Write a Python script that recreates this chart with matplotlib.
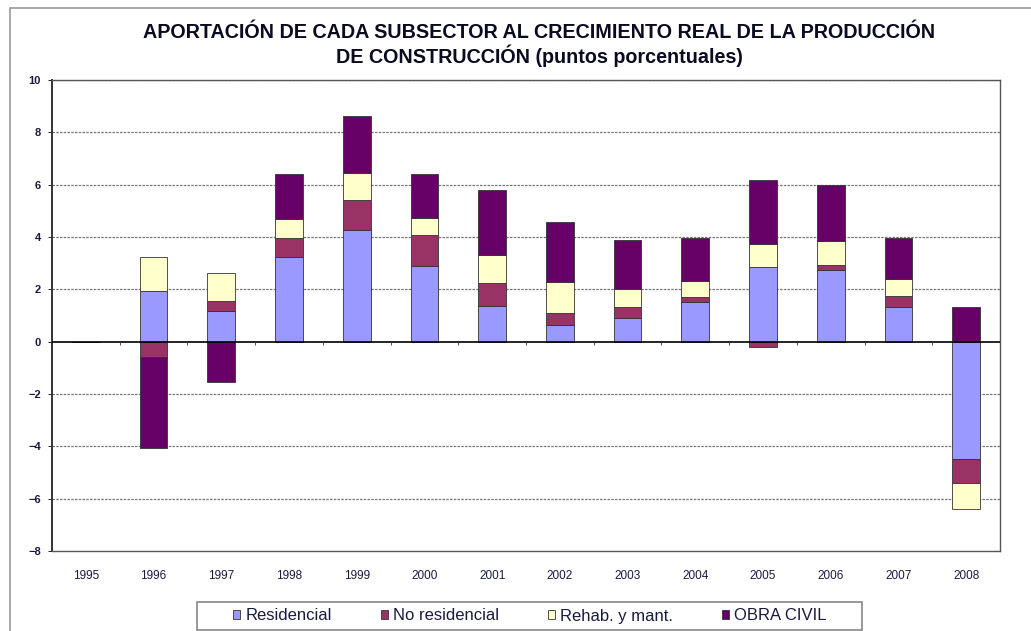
import numpy as np
import matplotlib
matplotlib.use("Agg")
import matplotlib.pyplot as plt
from matplotlib.patches import Rectangle

plt.rcParams['font.family'] = ['Liberation Sans', 'DejaVu Sans']

# ── Datos (puntos porcentuales) ──────────────────────────────
years = ['1995', '1996', '1997', '1998', '1999', '2000', '2001',
         '2002', '2003', '2004', '2005', '2006', '2007', '2008']
residencial = [0.0, 1.95, 1.16, 3.22, 4.27, 2.90, 1.35,
               0.64, 0.92, 1.53, 2.85, 2.72, 1.32, -4.47]
no_residencial = [0.0, -0.60, 0.38, 0.76, 1.15, 1.18, 0.90,
                  0.47, 0.40, 0.19, -0.19, 0.20, 0.42, -0.94]
rehab = [0.0, 1.30, 1.07, 0.70, 1.02, 0.64, 1.07,
         1.17, 0.68, 0.60, 0.90, 0.91, 0.64, -0.99]
obra_civil = [0.0, -3.45, -1.56, 1.71, 2.19, 1.68, 2.46,
              2.30, 1.88, 1.65, 2.41, 2.16, 1.58, 1.34]

series = [
    ("Residencial", residencial, "#9999FF"),
    ("No residencial", no_residencial, "#993366"),
    ("Rehab. y mant.", rehab, "#FFFFCC"),
    ("OBRA CIVIL", obra_civil, "#660066"),
]

TITLE = ("APORTACIÓN DE CADA SUBSECTOR AL CRECIMIENTO REAL DE LA PRODUCCIÓN\n"
         "DE CONSTRUCCIÓN (puntos porcentuales)")

W, H = 1031, 631
fig = plt.figure(figsize=(W / 100, H / 100), dpi=100)
ax = fig.add_axes([52 / W, 80 / H, 948 / W, 471 / H])

x = np.arange(len(years))
pos_base = np.zeros(len(years))
neg_base = np.zeros(len(years))
for name, vals, color in series:
    v = np.array(vals)
    base = np.where(v >= 0, pos_base, neg_base)
    ax.bar(x, v, bottom=base, width=0.41, color=color, edgecolor='#333333',
           linewidth=0.6, label=name, zorder=3)
    pos_base += np.where(v >= 0, v, 0)
    neg_base += np.where(v < 0, v, 0)

ax.set_xlim(-0.5, len(years) - 0.5)
ax.set_ylim(-8, 10)
ax.set_yticks(np.arange(-8, 11, 2))
ax.set_xticks(x)
ax.set_xticklabels(years)

ax.tick_params(axis='x', length=0, pad=14, labelsize=8.5, labelcolor='#1a1a40')
ax.tick_params(axis='y', length=3, width=0.6, pad=5, labelsize=8,
               labelcolor='#1a1a40')
for lab in ax.get_yticklabels():
    lab.set_fontweight('bold')

for y in range(-6, 11, 2):
    if y != 0:
        ax.axhline(y, color='#777777', linewidth=0.9,
                   linestyle=(0, (2, 1)), zorder=1)
ax.axhline(0, color='black', linewidth=1.2, zorder=4)
ax.vlines(x[:-1] + 0.5, -0.12, 0, color='#333333', linewidth=0.6, zorder=4)

for side in ['left', 'right', 'bottom', 'top']:
    ax.spines[side].set_color('#555555')
    ax.spines[side].set_linewidth(1.0)
ax.spines['left'].set_color('#333333')
ax.spines['left'].set_linewidth(1.4)

fig.text(539 / W, 1 - 45 / H, TITLE, ha='center', va='center',
         fontsize=14.2, fontweight='bold', color='#0a0a20', linespacing=1.1)

leg = fig.legend(loc='center', bbox_to_anchor=(530 / W, 1 - 616 / H),
                 ncol=4, fontsize=12, frameon=False,
                 handlelength=0.42, handleheight=0.42,
                 handletextpad=0.3, columnspacing=2.95)
for t in leg.get_texts():
    t.set_color('#1a1a40')

# caja de la leyenda
fig.add_artist(Rectangle((197 / W, 1 - 630 / H), 665 / W, 28 / H,
                         transform=fig.transFigure, fill=False,
                         edgecolor='#888888', linewidth=1.2))

# marco exterior del gráfico
fig.add_artist(Rectangle((10 / W, -0.1), 1.2, 1 - 8 / H + 0.1,
                         transform=fig.transFigure, fill=False,
                         edgecolor='#999999', linewidth=1.2))

fig.savefig('out.png', dpi=100, facecolor='white')
